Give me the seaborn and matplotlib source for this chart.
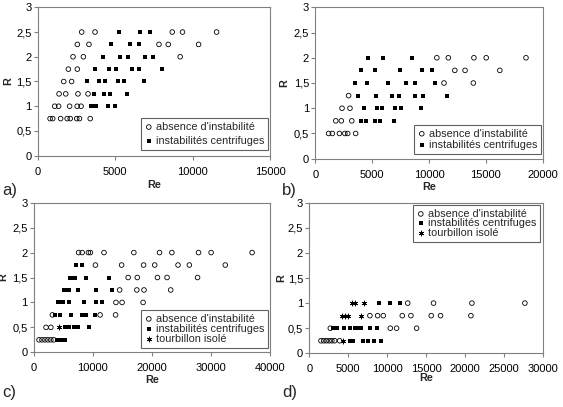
import matplotlib
matplotlib.use("Agg")
import matplotlib.pyplot as plt
import pandas as pd
import seaborn as sns
from matplotlib.ticker import FuncFormatter, MultipleLocator

sns.set_style("white")
plt.rcParams['font.family'] = ['Liberation Sans', 'DejaVu Sans']

ABS = "absence d'instabilité"
CEN = "instabilités centrifuges"
TOU = "tourbillon isolé"

# Re values for each R level, per panel and per regime
a_absence = {
    2.5: [2840, 3700, 8690, 9350, 11550],
    2.25: [2560, 3310, 7830, 8430, 10390],
    2.0: [2280, 2950, 9200],
    1.75: [1980, 2560],
    1.5: [1680, 2190],
    1.25: [1380, 1810, 2600, 3250],
    1.0: [1100, 1350, 2060, 2550, 2800],
    0.75: [800, 970, 1480, 1900, 2100, 2520, 2700, 3390],
}
a_centrifuge = {
    2.5: [5270, 6610, 7270],
    2.25: [4750, 5960, 6520],
    2.0: [4220, 5290, 5830, 6950, 7470],
    1.75: [3700, 4620, 5080, 6090, 6540, 8020],
    1.5: [3160, 3960, 4370, 5180, 5590, 6850],
    1.25: [3620, 4300, 4680, 5740],
    1.0: [3420, 3600, 3780, 4520, 5010],
}

b_absence = {
    2.0: [10690, 11700, 13950, 15030, 18530],
    1.75: [12270, 13170, 16230],
    1.5: [11320, 13900],
    1.25: [2930],
    1.0: [2350, 3050],
    0.75: [1800, 2290, 3210],
    0.5: [1170, 1500, 2120, 2600, 2850, 3550],
}
b_centrifuge = {
    2.0: [4660, 5980, 8530],
    1.75: [4050, 5250, 7480, 9350, 10300],
    1.5: [3490, 4520, 6390, 8010, 8800, 10520],
    1.25: [3780, 5370, 6740, 7330, 8740, 9440, 11610],
    1.0: [4280, 5400, 5890, 6980, 7540, 9300],
    0.75: [4020, 4420, 5250, 5700, 6950],
}

c_absence = {
    2.0: [7600, 8200, 9250, 9600, 11900, 16950, 21300, 23390, 27900, 30030, 36970],
    1.75: [10450, 14880, 18600, 20480, 24430, 26350, 32430],
    1.5: [15990, 17530, 20950, 22570, 27740],
    1.25: [14550, 17460, 18670, 23190],
    1.0: [13920, 14960, 18520],
    0.75: [3160, 11240, 13860],
    0.5: [2090, 2900],
    0.25: [900, 1400, 1900, 2400, 2900, 3400],
}
c_centrifuge = {
    1.75: [7240, 8100],
    1.5: [6100, 6550, 7000, 8920, 12800],
    1.25: [5050, 5500, 5900, 7480, 10620, 13280],
    1.0: [4100, 4500, 4900, 5930, 8470, 10560, 11640],
    0.75: [3640, 4490, 6380, 8100, 8800, 10400],
    0.5: [5300, 5900, 6900, 7500, 9300],
    0.25: [3900, 4400, 4900, 5300],
}
c_tourbillon = {
    0.5: [4240],
}

d_absence = {
    1.0: [12650, 15970, 20900, 27710],
    0.75: [7790, 8780, 9510, 11950, 13060, 15670, 16870, 20770],
    0.5: [2700, 10410, 11220, 13790],
    0.25: [1500, 1850, 2200, 2550, 2900, 3250, 3900],
}
d_centrifuge = {
    1.0: [8910, 10320, 11690],
    0.5: [3100, 3500, 4410, 5180, 5820, 6250, 6600, 7840, 8690],
    0.25: [5270, 5610, 6850, 7580, 8310, 9160],
}
d_tourbillon = {
    1.0: [5500, 5900, 7000],
    0.75: [4200, 4600, 5000, 6650],
    0.25: [4330],
}

W, H = 563, 407
GREY = '#808080'

STYLES = {
    ABS: dict(marker='o', s=11, facecolors='none', edgecolor='black', linewidth=0.6),
    CEN: dict(marker='s', s=11, color='black', edgecolor='black', linewidth=0),
    TOU: dict(marker=(6, 2, 0), s=13, color='black', edgecolor='black', linewidth=0.55),
}


def to_frame(rows):
    recs = [(re, r) for r, res in rows.items() for re in res]
    return pd.DataFrame(recs, columns=['Re', 'R'])


def fig_box(left, top, right, bottom):
    return [left / W, 1 - bottom / H, (right - left) / W, (bottom - top) / H]


panels = [
    dict(letter='a)', box=(37.7, 7.3, 270, 155.7), xmax=15000, xstep=5000,
         series=[(ABS, a_absence), (CEN, a_centrifuge)],
         leg_loc='lower right', leg_xy=(268, 150), spacing=0.4,
         re_xy=(153.9, 180), r_xy=(13, 81.5), letter_xy=(2, 190)),
    dict(letter='b)', box=(315.3, 7.3, 542.7, 158.7), xmax=20000, xstep=5000,
         series=[(ABS, b_absence), (CEN, b_centrifuge)],
         leg_loc='lower right', leg_xy=(541, 154), spacing=0.15,
         re_xy=(429, 182), r_xy=(289, 83), letter_xy=(282, 190)),
    dict(letter='c)', box=(33.7, 202.7, 270, 352.3), xmax=40000, xstep=10000,
         series=[(ABS, c_absence), (CEN, c_centrifuge), (TOU, c_tourbillon)],
         leg_loc='lower right', leg_xy=(268, 348), spacing=0.02,
         re_xy=(151.9, 375), r_xy=(8.5, 277.5), letter_xy=(2, 393)),
    dict(letter='d)', box=(309.3, 202.7, 542.7, 353.3), xmax=30000, xstep=5000,
         series=[(ABS, d_absence), (CEN, d_centrifuge), (TOU, d_tourbillon)],
         leg_loc='upper right', leg_xy=(540, 205), spacing=-0.05,
         re_xy=(426, 373), r_xy=(286, 278), letter_xy=(282, 393)),
]

fig = plt.figure(figsize=(W / 100, H / 100), dpi=100)

for p in panels:
    ax = fig.add_axes(fig_box(*p['box']))
    for name, rows in p['series']:
        sns.scatterplot(data=to_frame(rows), x='Re', y='R', ax=ax, label=name,
                        **STYLES[name])

    ax.set_xlim(0, p['xmax'])
    ax.set_ylim(0, 3)
    ax.xaxis.set_major_locator(MultipleLocator(p['xstep']))
    ax.yaxis.set_major_locator(MultipleLocator(0.5))
    ax.yaxis.set_major_formatter(FuncFormatter(lambda v, _: f"{v:g}".replace('.', ',')))
    ax.tick_params(direction='out', length=3, width=0.8, color=GREY,
                   labelsize=8, labelcolor='black', bottom=True, left=True)
    ax.tick_params(axis='x', pad=5)
    ax.tick_params(axis='y', pad=1.5)
    for sp in ax.spines.values():
        sp.set_color(GREY)
        sp.set_linewidth(0.8)

    ax.set_xlabel('Re', fontsize=7.8, fontweight='bold')
    ax.set_ylabel('R', fontsize=7.8, fontweight='bold')
    ax.xaxis.set_label_coords(p['re_xy'][0] / W, 1 - p['re_xy'][1] / H,
                              transform=fig.transFigure)
    ax.yaxis.set_label_coords(p['r_xy'][0] / W, 1 - p['r_xy'][1] / H,
                              transform=fig.transFigure)

    lx, ly = p['leg_xy']
    leg = ax.legend(loc=p['leg_loc'], bbox_to_anchor=(lx / W, 1 - ly / H),
                    bbox_transform=fig.transFigure, borderaxespad=0,
                    fontsize=7.8, frameon=True, fancybox=False, framealpha=1,
                    edgecolor='#606060', borderpad=0.35, handlelength=0.8,
                    handletextpad=0.25, labelspacing=p['spacing'], scatterpoints=1)
    leg.get_frame().set_linewidth(0.8)

    fig.text(p['letter_xy'][0] / W, 1 - p['letter_xy'][1] / H, p['letter'],
             fontsize=12, ha='left', va='center')

fig.savefig('out.png', dpi=100)
